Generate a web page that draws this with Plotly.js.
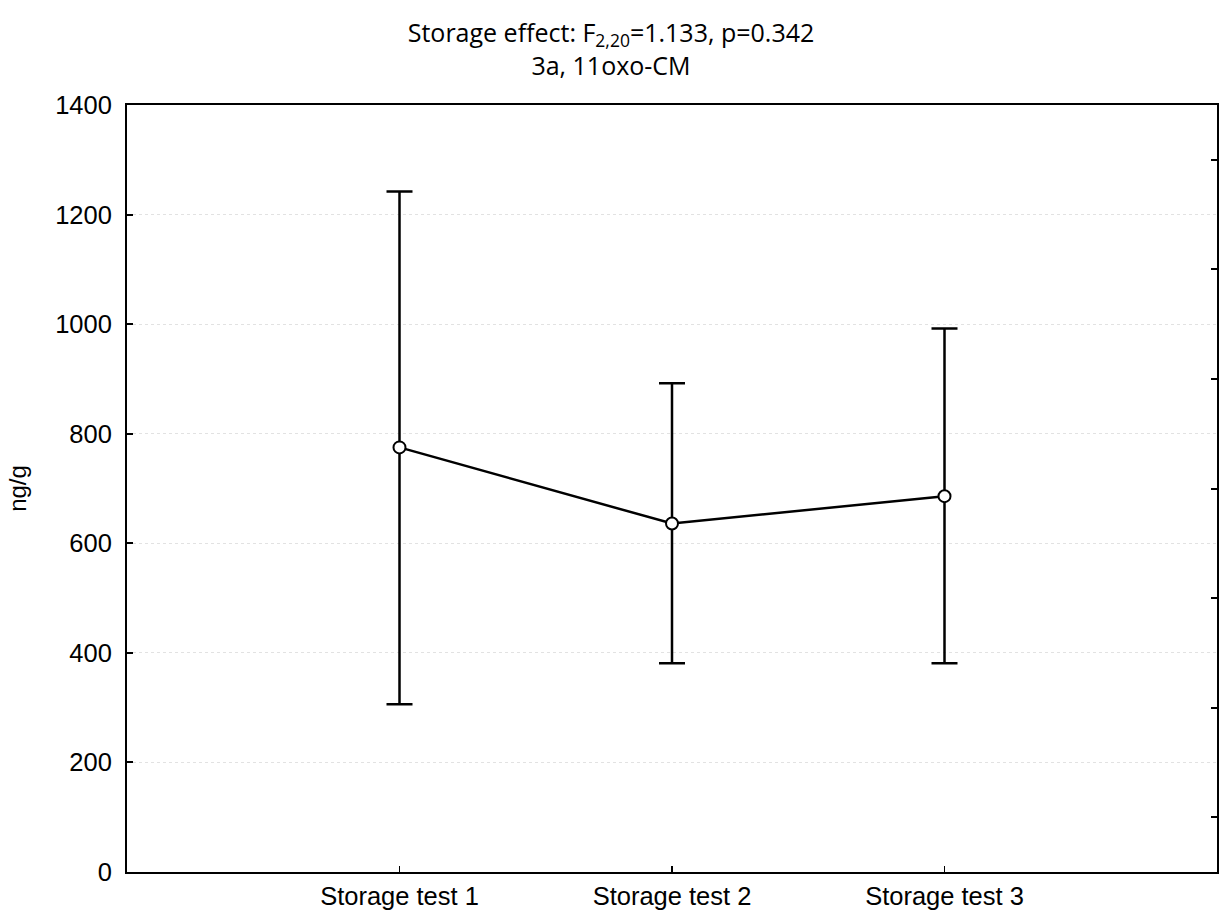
<!DOCTYPE html>
<html>
<head>
<meta charset="utf-8">
<script src="https://cdn.plot.ly/plotly-3.0.1.min.js"></script>
<style>html,body{margin:0;padding:0;background:#fff;}#chart{width:1222px;height:916px;}</style>
</head>
<body>
<div id="chart"></div>
<script>
const categories = ["Storage test 1", "Storage test 2", "Storage test 3"];
const means = [775, 636, 686];
const upper = [1242, 892, 992];
const lower = [306, 381, 381];
const yTicks = [0, 200, 400, 600, 800, 1000, 1200, 1400];
const rightTicks = [100, 300, 500, 700, 900, 1100, 1300];

const xIdx = categories.map((c, i) => i);
const trace = {
  x: xIdx,
  y: means,
  type: 'scatter',
  mode: 'lines+markers',
  line: {color: '#000', width: 2.5},
  marker: {symbol: 'circle', size: 12, color: '#fff', line: {color: '#000', width: 2}},
  error_y: {
    type: 'data',
    symmetric: false,
    array: upper.map((u, i) => u - means[i]),
    arrayminus: means.map((m, i) => m - lower[i]),
    color: '#000',
    thickness: 2.5,
    width: 13
  },
  hoverinfo: 'none'
};
const dummy = {x: [0], y: [0], yaxis: 'y2', mode: 'markers', marker: {opacity: 0}, showlegend: false, hoverinfo: 'none'};

const layout = {
  width: 1222, height: 916,
  margin: {l: 127, r: 5, t: 105, b: 44},
  paper_bgcolor: '#fff', plot_bgcolor: '#fff',
  showlegend: false,
  font: {family: 'Liberation Sans, Arial, sans-serif', color: '#000'},
  title: {
    text: 'Storage effect: F<sub>2,20</sub>=1.133, p=0.342<br>3a, 11oxo-CM',
    font: {family: 'Open Sans, Noto Sans, sans-serif', size: 25, color: '#000'},
    x: 0.5, xanchor: 'center', y: 0.954, yanchor: 'top'
  },
  xaxis: {
    range: [-1, 3],
    tickvals: xIdx, ticktext: categories,
    ticks: 'inside', ticklen: 6, tickwidth: 1.5, tickcolor: '#000',
    showline: true, linecolor: '#000', linewidth: 2, mirror: true,
    showgrid: false, zeroline: false,
    tickfont: {size: 25.5, family: 'Liberation Sans, Arial, sans-serif'}
  },
  yaxis: {
    range: [0, 1400],
    tickvals: yTicks,
    ticks: 'inside', ticklen: 6, tickwidth: 2, tickcolor: '#000',
    ticklabelstandoff: 8,
    showline: true, linecolor: '#000', linewidth: 2, mirror: true,
    showgrid: true, gridcolor: '#e2e2e2', griddash: 'dot', gridwidth: 1,
    zeroline: false,
    tickfont: {size: 25.5, family: 'Liberation Sans, Arial, sans-serif'},
    title: {text: 'ng/g', font: {size: 24, family: 'Liberation Sans, Arial, sans-serif'}, standoff: 22}
  },
  yaxis2: {
    overlaying: 'y', side: 'right', range: [0, 1400],
    tickvals: rightTicks, showticklabels: false,
    ticks: 'inside', ticklen: 6, tickwidth: 2, tickcolor: '#000',
    showline: false, showgrid: false, zeroline: false
  }
};
Plotly.newPlot('chart', [trace, dummy], layout, {staticPlot: true});
</script>
</body>
</html>
